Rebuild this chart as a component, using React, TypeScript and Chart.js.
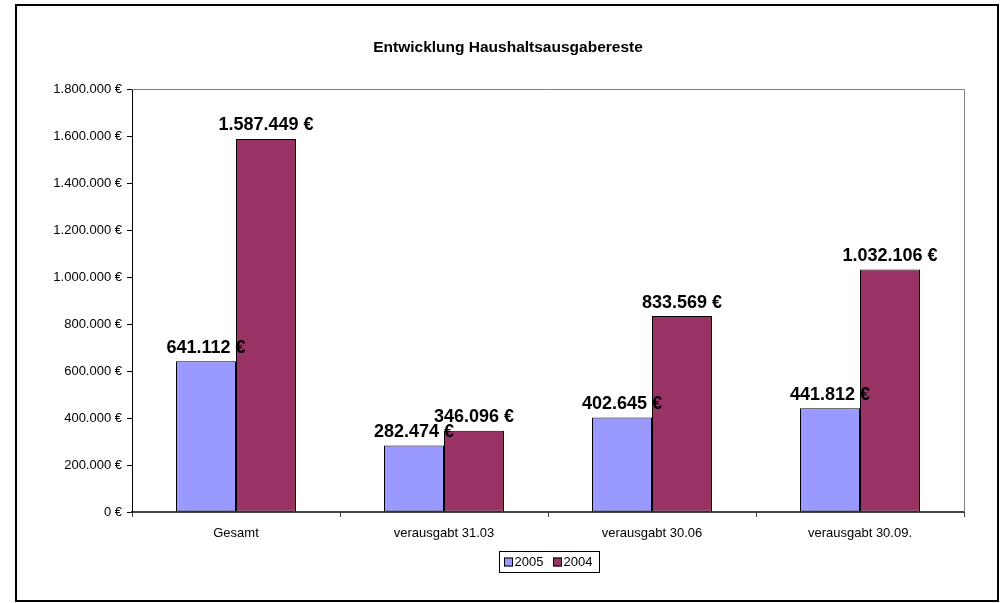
import React, { useEffect, useRef } from "react";
import { Chart, registerables } from "chart.js";

Chart.register(...registerables);

const categories = ["Gesamt", "verausgabt 31.03", "verausgabt 30.06", "verausgabt 30.09."];
const seriesLabels = ["2005", "2004"];
const values2005 = [641112, 282474, 402645, 441812];
const values2004 = [1587449, 346096, 833569, 1032106];
const yTicks = [0, 200000, 400000, 600000, 800000, 1000000, 1200000, 1400000, 1600000, 1800000];
const titleText = "Entwicklung Haushaltsausgabereste";

const FONT = 'Arial, "Liberation Sans", sans-serif';
const COLORS = ["#9999FF", "#993366"];

function fmt(v: number): string {
  return String(Math.round(v)).replace(/\B(?=(\d{3})+(?!\d))/g, ".") + " €";
}

const framePlugin = {
  id: "frame",
  beforeDraw(chart: any) {
    const ctx = chart.ctx;
    ctx.save();
    ctx.fillStyle = "#ffffff";
    ctx.fillRect(0, 0, chart.width, chart.height);
    ctx.strokeStyle = "#000000";
    ctx.lineWidth = 2;
    ctx.strokeRect(16, 5, 982, 596);
    ctx.restore();
  },
  beforeDatasetsDraw(chart: any) {
    const ctx = chart.ctx;
    const a = chart.chartArea;
    ctx.save();
    ctx.strokeStyle = "#808080";
    ctx.lineWidth = 1;
    ctx.beginPath();
    ctx.moveTo(a.left, Math.round(a.top) + 0.5);
    ctx.lineTo(Math.round(a.right) + 0.5, Math.round(a.top) + 0.5);
    ctx.lineTo(Math.round(a.right) + 0.5, a.bottom);
    ctx.stroke();
    ctx.restore();
  },
};

const valueLabelPlugin = {
  id: "valueLabels",
  afterDatasetsDraw(chart: any) {
    const ctx = chart.ctx;
    ctx.save();
    ctx.font = `bold 18px ${FONT}`;
    ctx.fillStyle = "#000000";
    ctx.textAlign = "center";
    ctx.textBaseline = "alphabetic";
    chart.data.datasets.forEach((ds: any, di: number) => {
      const meta = chart.getDatasetMeta(di);
      meta.data.forEach((el: any, i: number) => {
        ctx.fillText(fmt(ds.data[i]), el.x, el.y - 8.5);
      });
    });
    ctx.restore();
  },
};

const customLegendPlugin = {
  id: "customLegend",
  afterDraw(chart: any) {
    const ctx = chart.ctx;
    const a = chart.chartArea;
    ctx.save();
    ctx.font = `13px ${FONT}`;
    const items = chart.data.datasets.map((ds: any) => ({
      text: ds.label,
      color: ds.backgroundColor,
      w: ctx.measureText(ds.label).width,
    }));
    const sw = 9;
    const gapText = 2;
    const gapItem = 9;
    let total = 0;
    items.forEach((it: any, i: number) => {
      total += sw + gapText + it.w + (i < items.length - 1 ? gapItem : 0);
    });
    const cx = (a.left + a.right) / 2;
    const cy = 562;
    const start = cx - total / 2;
    const end = start + total;
    ctx.strokeStyle = "#000000";
    ctx.lineWidth = 1;
    ctx.strokeRect(Math.round(start - 5) + 0.5, cy - 11 + 0.5, Math.round(end + 6 - (start - 5)), 21);
    let x = start;
    ctx.textAlign = "left";
    ctx.textBaseline = "middle";
    items.forEach((it: any) => {
      ctx.fillStyle = it.color;
      ctx.fillRect(Math.round(x), cy - 4.5, sw, sw);
      ctx.strokeRect(Math.round(x) + 0.5, cy - 4.5 + 0.5, sw - 1, sw - 1);
      x += sw + gapText;
      ctx.fillStyle = "#000000";
      ctx.fillText(it.text, x, cy + 0.5);
      x += it.w + gapItem;
    });
    ctx.restore();
  },
};

export default function App() {
  const ref = useRef<HTMLCanvasElement | null>(null);

  useEffect(() => {
    if (!ref.current) return;
    const chart = new Chart(ref.current, {
      type: "bar",
      data: {
        labels: categories,
        datasets: [
          {
            label: seriesLabels[0],
            data: values2005,
            backgroundColor: COLORS[0],
            borderColor: "#000000",
            borderWidth: 1,
            borderSkipped: false,
            categoryPercentage: 120 / 208,
            barPercentage: 1,
          },
          {
            label: seriesLabels[1],
            data: values2004,
            backgroundColor: COLORS[1],
            borderColor: "#000000",
            borderWidth: 1,
            borderSkipped: false,
            categoryPercentage: 120 / 208,
            barPercentage: 1,
          },
        ],
      },
      options: {
        animation: false,
        responsive: false,
        devicePixelRatio: 1,
        layout: { padding: { left: 52, right: 43, top: 0, bottom: 61 } },
        plugins: {
          legend: { display: false },
          tooltip: { enabled: false },
          title: {
            display: true,
            text: titleText,
            color: "#000000",
            font: { family: FONT, size: 15.5, weight: "bold" },
            padding: { top: 38.4, bottom: 32 },
          },
        },
        scales: {
          x: {
            type: "category",
            offset: true,
            grid: {
              display: true,
              offset: true,
              drawOnChartArea: false,
              drawTicks: true,
              tickLength: 5,
              color: "#444444",
            },
            border: { display: true, color: "#444444", width: 2 },
            ticks: {
              color: "#000000",
              font: { family: FONT, size: 13 },
              padding: 9,
              maxRotation: 0,
              autoSkip: false,
            },
            afterFit(scale: any) {
              scale.height = 30;
            },
          },
          y: {
            min: 0,
            max: 1800000,
            afterBuildTicks(scale: any) {
              scale.ticks = yTicks.map((v) => ({ value: v }));
            },
            grid: {
              display: true,
              drawOnChartArea: false,
              drawTicks: true,
              tickLength: 5,
              color: "#000000",
            },
            border: { display: true, color: "#000000", width: 1 },
            ticks: {
              color: "#000000",
              font: { family: FONT, size: 13 },
              padding: 5,
              callback: (v: any) => fmt(Number(v)),
            },
            afterFit(scale: any) {
              scale.width = 80;
            },
          },
        },
      },
      plugins: [framePlugin, valueLabelPlugin, customLegendPlugin],
    });
    return () => chart.destroy();
  }, []);

  return (
    <div style={{ position: "absolute", left: 0, top: 0, width: 1007, height: 603 }}>
      <canvas ref={ref} width={1007} height={603} style={{ display: "block", width: 1007, height: 603 }} />
    </div>
  );
}
